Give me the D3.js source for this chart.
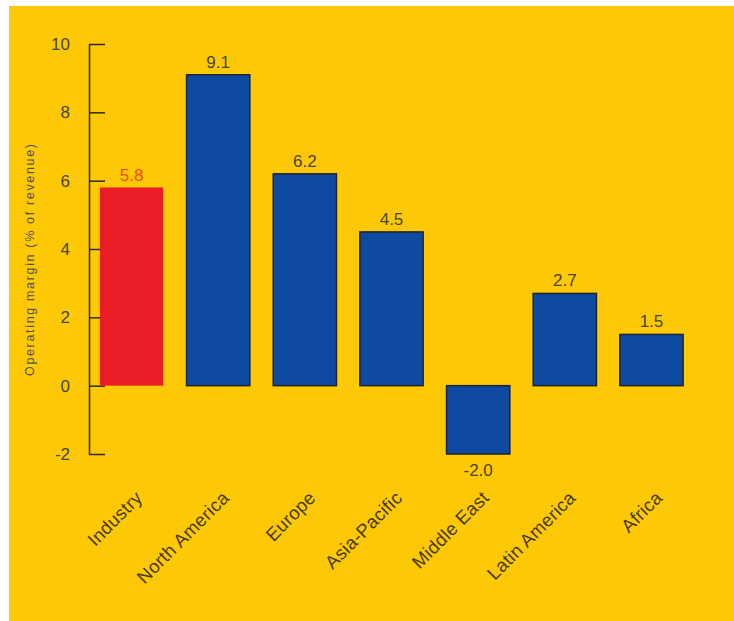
<!DOCTYPE html>
<html>
<head>
<meta charset="utf-8">
<script src="https://cdn.jsdelivr.net/npm/d3@7"></script>
<style>
  body { margin: 0; background: #fff; }
  text { font-family: "Liberation Sans", Arial, sans-serif; }
</style>
</head>
<body>
<div id="container"></div>
<script>
// data
let regions = ["Industry", "North America", "Europe", "Asia-Pacific", "Middle East", "Latin America", "Africa"];
let margins = [5.8, 9.1, 6.2, 4.5, -2.0, 2.7, 1.5];
let yTicks = [-2, 0, 2, 4, 6, 8, 10];

let w = 734;
let h = 621;

let viz = d3.select("#container")
  .append("svg")
    .attr("width", w)
    .attr("height", h)
;

// yellow panel
viz.append("rect")
  .attr("x", 9)
  .attr("y", 6)
  .attr("width", w - 9)
  .attr("height", h - 6)
  .attr("fill", "#fdc806");

let xScale = d3.scaleBand()
  .domain(regions)
  .range([88.2, 694.8])
  .paddingInner(0.27)
  .paddingOuter(0.135);

let yScale = d3.scaleLinear().domain([-2, 10]).range([454, 44]);

// y axis, ticks pointing inward
let yAxis = d3.axisLeft(yScale)
  .tickValues(yTicks)
  .tickSizeInner(-16)
  .tickSizeOuter(0)
  .tickPadding(19)
  .tickFormat(d => String(d)); // plain hyphen for -2

let yAxisGroup = viz.append("g")
  .attr("class", "yaxisgroup")
  .attr("transform", "translate(89,0)")
  .call(yAxis);

yAxisGroup.select(".domain").attr("stroke", "#2b2b1a").attr("stroke-width", 1.5);
yAxisGroup.selectAll(".tick line").attr("stroke", "#2b2b1a").attr("stroke-width", 1.5);
yAxisGroup.selectAll(".tick text")
  .attr("font-size", 17)
  .attr("fill", "#4a4636");

// y axis title
viz.append("text")
  .attr("transform", "translate(34,260) rotate(-90)")
  .attr("text-anchor", "middle")
  .attr("font-size", 12.5)
  .attr("textLength", 232)
  .attr("fill", "#5a5258")
  .text("Operating margin (% of revenue)");

// bars
viz.selectAll(".bar")
  .data(margins)
  .enter()
  .append("rect")
    .attr("class", "bar")
    .attr("x", (d, i) => xScale(regions[i]))
    .attr("y", d => yScale(Math.max(d, 0)))
    .attr("width", xScale.bandwidth())
    .attr("height", d => Math.abs(yScale(d) - yScale(0)))
    .attr("fill", (d, i) => i == 0 ? "#ea1d27" : "#0d4aa0")
    .attr("stroke", (d, i) => i == 0 ? "none" : "#1c2430")
    .attr("stroke-width", 1.5)
;

// value labels
viz.selectAll(".valueLabel")
  .data(margins)
  .enter()
  .append("text")
    .attr("class", "valueLabel")
    .attr("x", (d, i) => xScale(regions[i]) + xScale.bandwidth() / 2)
    .attr("y", d => d >= 0 ? yScale(d) - 7 : yScale(d) + 22)
    .attr("text-anchor", "middle")
    .attr("font-size", 17)
    .attr("fill", (d, i) => i == 0 ? "#ee4a22" : "#4a4636")
    .text(d => d.toFixed(1))
;

// rotated category labels
viz.selectAll(".catLabel")
  .data(regions)
  .enter()
  .append("text")
    .attr("class", "catLabel")
    .attr("transform", d => "translate(" + (xScale(d) + xScale.bandwidth() / 2 + 12) + ",499) rotate(-45)")
    .attr("text-anchor", "end")
    .attr("font-size", 18.5)
    .attr("letter-spacing", 0.3)
    .attr("fill", "#4a3c0a")
    .text(d => d)
;
</script>
</body>
</html>
